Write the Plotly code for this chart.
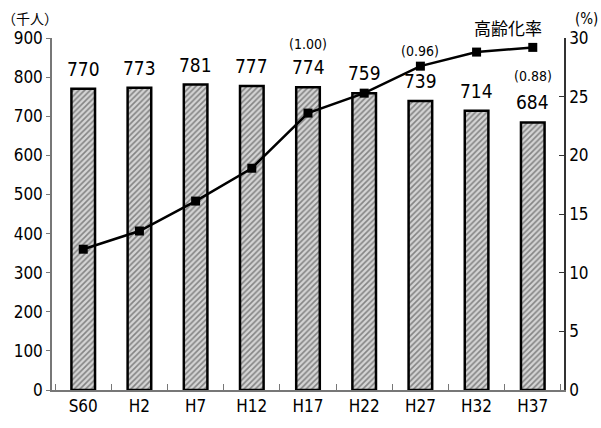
import plotly.graph_objects as go

categories = ["S60", "H2", "H7", "H12", "H17", "H22", "H27", "H32", "H37"]
population = [770, 773, 781, 777, 774, 759, 739, 714, 684]
aging_rate = [12.0, 13.55, 16.1, 18.9, 23.6, 25.3, 27.6, 28.8, 29.2]
ratio_labels = {"H17": "(1.00)", "H27": "(0.96)", "H37": "(0.88)"}
left_ticks = list(range(0, 901, 100))
right_ticks = list(range(0, 31, 5))

FONT = "DejaVu Sans Condensed, Liberation Sans Narrow, sans-serif"
JP = "Noto Sans CJK JP"

L, R, T, B = 52, 35, 38, 38
W, H = 601, 428
pw, ph = W - L - R, H - T - B


def px_x(x):
    return (x - L) / pw


def px_y(y):
    return (H - B - y) / ph


fig = go.Figure()
fig.add_trace(go.Bar(
    x=categories, y=population, width=0.42,
    marker=dict(color="#b0b0b0", line=dict(color="black", width=2.5),
                pattern=dict(shape="/", fgcolor="#333333", bgcolor="#d4d4d4",
                             size=4, solidity=0.4)),
    showlegend=False, hoverinfo="skip",
))
fig.add_trace(go.Scatter(
    x=categories, y=aging_rate, yaxis="y2", mode="lines+markers",
    line=dict(color="black", width=2.5),
    marker=dict(symbol="square", size=9, color="black"),
    showlegend=False,
))

annotations = []
for c, v in zip(categories, population):
    annotations.append(dict(x=c, y=v, xref="x", yref="y", text=str(v),
                            showarrow=False, yshift=20, yanchor="middle",
                            font=dict(size=19, family=FONT, color="black")))
ratio_y = dict(zip(categories, population))
ratio_shift = {"H17": 43, "H27": 50, "H37": 46}
for c, t in ratio_labels.items():
    annotations.append(dict(x=c, y=ratio_y[c], xref="x", yref="y", text=t,
                            showarrow=False, yshift=ratio_shift[c], yanchor="middle",
                            font=dict(size=14, family=FONT, color="black")))
annotations.append(dict(x=px_x(510), y=px_y(27), xref="paper", yref="paper",
                        text="高齢化率", showarrow=False, xanchor="center", yanchor="middle",
                        font=dict(size=17, family=JP, color="black")))
annotations.append(dict(x=px_x(0), y=px_y(18), xref="paper", yref="paper",
                        text="（千人）", showarrow=False, xanchor="left", yanchor="middle",
                        font=dict(size=14, family=JP, color="black")))
annotations.append(dict(x=px_x(589), y=px_y(19), xref="paper", yref="paper",
                        text="(%)", showarrow=False, xanchor="center", yanchor="middle",
                        font=dict(size=15, family=FONT, color="black")))

fig.update_layout(
    width=W, height=H, margin=dict(l=L, r=R, t=T, b=B),
    plot_bgcolor="white", paper_bgcolor="white",
    font=dict(family=FONT, size=16, color="black"),
    xaxis=dict(showline=True, linecolor="#777777", linewidth=1.5,
               ticks="inside", ticklen=6, tickcolor="#777777",
               tickson="boundaries", showgrid=False,
               tickfont=dict(size=17, family=FONT)),
    yaxis=dict(range=[0, 900], tickvals=left_ticks, showline=True,
               linecolor="#777777", linewidth=1.5, ticks="outside", ticklen=4,
               tickcolor="#777777", showgrid=False, zeroline=False,
               tickfont=dict(size=17, family=FONT)),
    yaxis2=dict(range=[0, 30], tickvals=right_ticks, overlaying="y", side="right",
                showline=True, linecolor="#333333", linewidth=1.5, ticks="inside",
                ticklen=5, tickcolor="#333333", showgrid=False, zeroline=False,
                tickfont=dict(size=17, family=FONT)),
    annotations=annotations,
)

fig.write_html("out.html")
